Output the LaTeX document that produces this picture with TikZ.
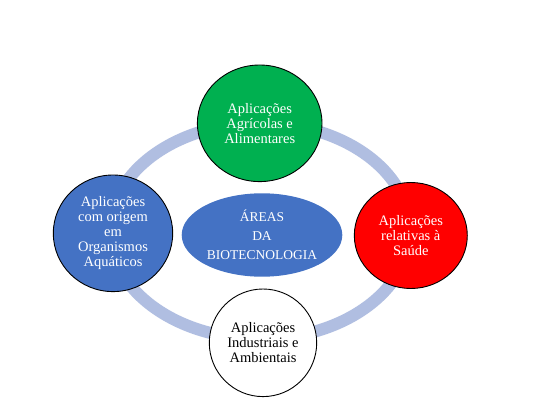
\documentclass[tikz,border=0pt]{standalone}
\usepackage{fontspec}
\setmainfont{Liberation Serif}
\usetikzlibrary{shapes.geometric}
\definecolor{ringblue}{RGB}{176,190,225}
\definecolor{accblue}{RGB}{68,114,196}
\definecolor{accgreen}{RGB}{0,176,80}
\definecolor{accred}{RGB}{255,0,0}
\tikzset{
  bubble/.style={ellipse, draw=black, line width=0.9pt, inner sep=0pt, align=center,
    font={\fontsize{14.5pt}{15pt}\selectfont}},
  hub/.style={ellipse, fill=accblue, inner sep=0pt, align=center, text=white,
    minimum width=160.6pt, minimum height=83.4pt,
    font={\fontsize{13.5pt}{19pt}\selectfont}}
}
\begin{document}
\begin{tikzpicture}[x=1pt,y=-1pt]
\useasboundingbox (0,0) rectangle (536,404);
\fill[white] (0,0) rectangle (536,404);
% ring
\draw[ringblue, line width=12pt] (260,231) ellipse [x radius=150, y radius=108];
% hub
\node[hub] (center) at (262,235) {ÁREAS\\DA\\BIOTECNOLOGIA};
% satellites
\node[bubble, fill=accgreen, text=white, minimum width=124.6pt, minimum height=116.6pt]
  (top) at (259.7,123.3) {Aplicações\\Agrícolas e\\Alimentares};
\node[bubble, fill=accred, text=white, minimum width=113pt, minimum height=106pt]
  (right) at (410.8,235.5) {Aplicações\\relativas à\\Saúde};
\node[bubble, fill=white, text=black, minimum width=107.4pt, minimum height=107.6pt]
  (bottom) at (263,342.8) {Aplicações\\Industriais e\\Ambientais};
\node[bubble, fill=accblue, text=white, minimum width=119.4pt, minimum height=116.6pt]
  (left) at (113,233.3) {Aplicações\\com origem\\em\\Organismos\\Aquáticos};
\end{tikzpicture}
\end{document}
